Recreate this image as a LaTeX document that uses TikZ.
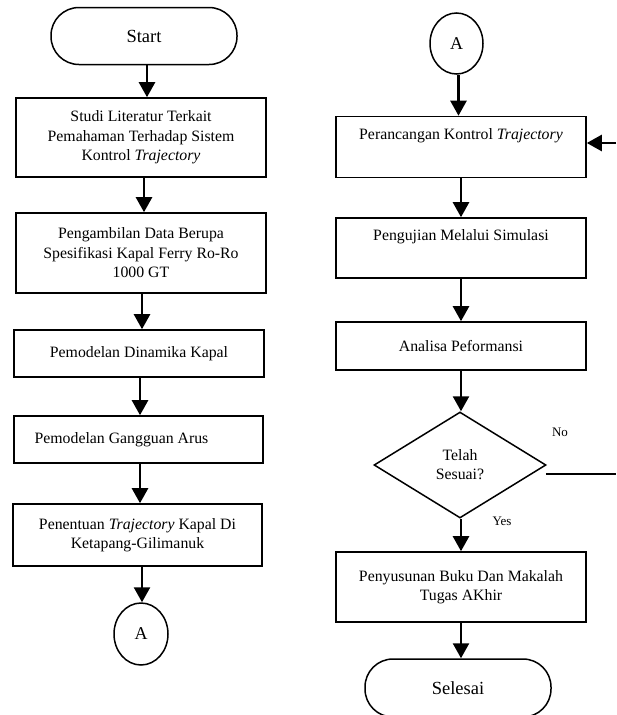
\documentclass[tikz,border=0pt]{standalone}
\usepackage{fontspec}
\setmainfont{Liberation Serif}
\usetikzlibrary{arrows.meta,shapes.geometric}
\tikzset{
  boxnode/.style={draw, line width=1.6pt, inner sep=0pt, align=center,
    font=\fontsize{15.8}{19.5}\selectfont},
  termnode/.style={draw, line width=1.5pt, inner sep=0pt, rounded corners=28pt,
    minimum width=186pt, minimum height=57pt, font=\fontsize{18.5}{22}\selectfont},
  connnode/.style={draw, ellipse, line width=1.5pt, inner sep=0pt,
    minimum width=54pt, minimum height=62pt, font=\fontsize{18}{22}\selectfont},
  decnode/.style={draw, diamond, line width=1.5pt, inner sep=0pt, align=center,
    aspect=1.62, minimum width=172pt, minimum height=106pt,
    font=\fontsize{15.8}{19}\selectfont},
  lblnode/.style={inner sep=0pt, font=\fontsize{13}{15}\selectfont},
  arr/.style={line width=2.5pt, -{Triangle[length=15pt,width=16pt]}},
  plainline/.style={line width=1.6pt}
}
\begin{document}
\begin{tikzpicture}[x=1pt,y=-1pt]
\useasboundingbox (0,0) rectangle (616,715);
% left column
\node[termnode] (start) at (144,36) {Start};
\node[boxnode, minimum width=250pt, minimum height=79pt] (b1) at (141,137.5)
  {Studi Literatur Terkait\\Pemahaman Terhadap Sistem\\Kontrol \textit{Trajectory}};
\node[boxnode, minimum width=250pt, minimum height=80pt] (b2) at (141,253)
  {Pengambilan Data Berupa\\Spesifikasi Kapal Ferry Ro-Ro\\1000 GT};
\node[boxnode, minimum width=250pt, minimum height=47pt] (b3) at (139,353.5)
  {Pemodelan Dinamika Kapal};
\node[boxnode, minimum width=249pt, minimum height=47pt] (b4) at (138.5,439.5)
  {Pemodelan Gangguan Arus\hspace*{34pt}};
\node[boxnode, minimum width=249pt, minimum height=62pt] (b5) at (137.5,535)
  {Penentuan \textit{Trajectory} Kapal Di\\Ketapang-Gilimanuk};
\node[connnode] (ca) at (141,634) {A};
% right column
\node[connnode, minimum width=53pt, minimum height=61pt] (cb) at (456.5,43.5) {A};
\node[boxnode, minimum width=250pt, minimum height=61pt] (b6) at (461,147)
  {Perancangan Kontrol \textit{Trajectory}\\\strut};
\node[boxnode, minimum width=250pt, minimum height=60pt] (b7) at (461,248)
  {Pengujian Melalui Simulasi\\\strut};
\node[boxnode, minimum width=250pt, minimum height=48pt] (b8) at (461,346)
  {Analisa Peformansi};
\node[decnode] (dia) at (460,465) {Telah\\Sesuai?};
\node[boxnode, minimum width=250pt, minimum height=70pt] (b9) at (461,587)
  {Penyusunan Buku Dan Makalah\\Tugas AKhir};
\node[termnode, minimum height=58pt] (fin) at (458,688) {Selesai};
\node[lblnode] (no) at (560,432) {No};
\node[lblnode] (yes) at (502,521) {Yes};
\coordinate (noend) at (616,474);
\coordinate (fbstart) at (616,143);
% connectors left
\draw[arr] ([xshift=3pt]start.south) -- ([xshift=3pt]start.south |- b1.north);
\draw[arr] ([xshift=3pt]b1.south) -- ([xshift=3pt]b1.south |- b2.north);
\draw[arr] ([xshift=1pt]b2.south) -- ([xshift=1pt]b2.south |- b3.north);
\draw[arr] ([xshift=1pt]b3.south) -- ([xshift=1pt]b3.south |- b4.north);
\draw[arr] ([xshift=1.5pt]b4.south) -- ([xshift=1.5pt]b4.south |- b5.north);
\draw[arr] ([xshift=4.5pt]b5.south) -- ([xshift=4.5pt]b5.south |- ca.north);
% connectors right
\draw[arr] ([xshift=2pt]cb.south) -- ([xshift=2pt]cb.south |- b6.north);
\draw[arr] (b6.south) -- (b7.north);
\draw[arr] (b7.south) -- (b8.north);
\draw[arr] (b8.south) -- (b8.south |- dia.north);
\draw[arr] (dia.south -| b9.north) -- (b9.north);
\draw[arr] ([xshift=3pt]fin.north |- b9.south) -- ([xshift=3pt]fin.north);
\draw[plainline] ([xshift=-1pt]dia.east |- noend) -- (noend);
\draw[arr] (fbstart) -- (fbstart -| b6.east);
\end{tikzpicture}
\end{document}
